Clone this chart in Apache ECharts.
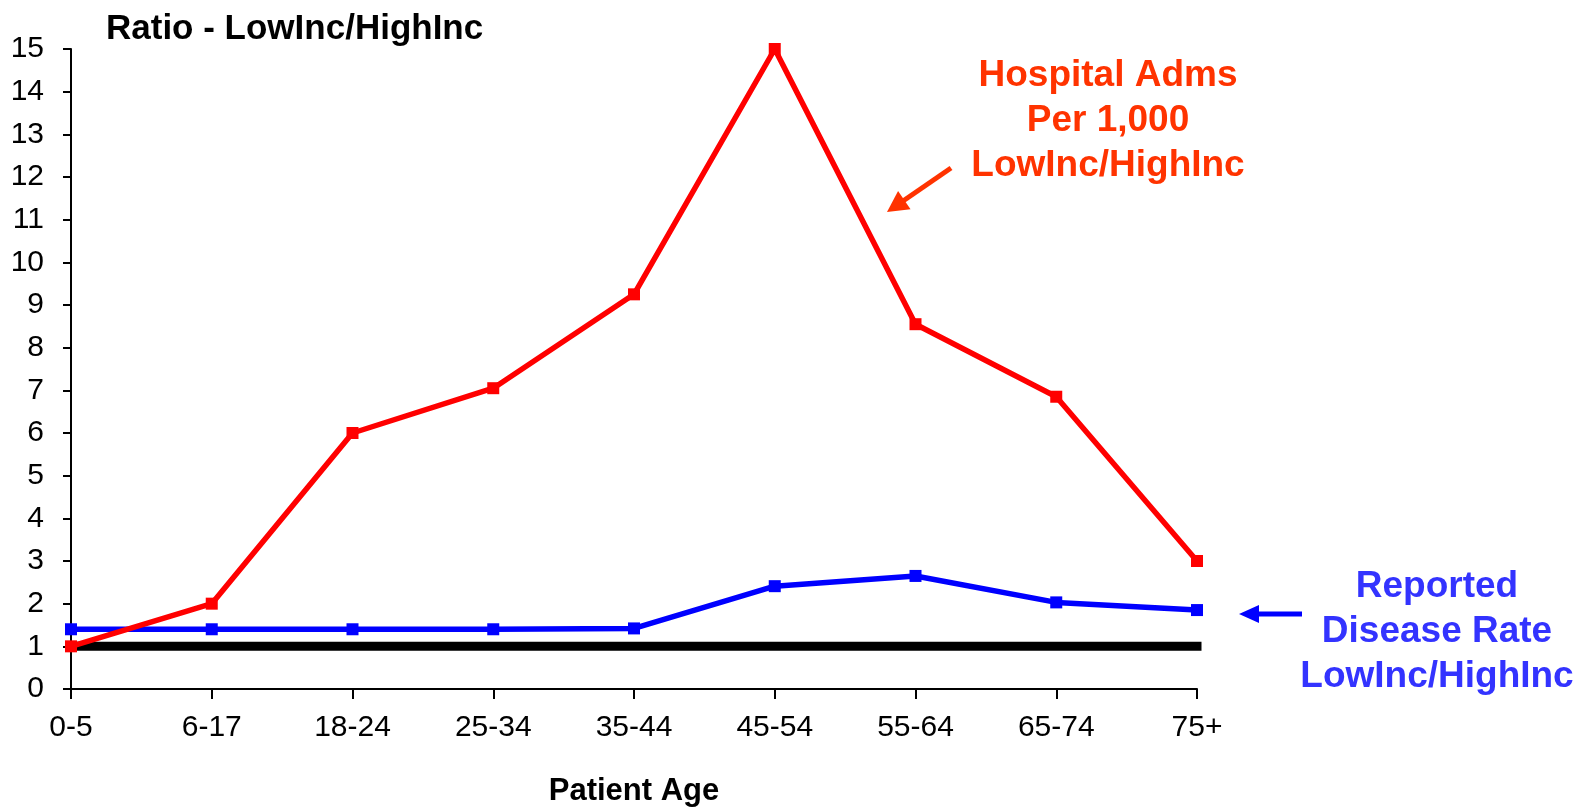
<!DOCTYPE html>
<html>
<head>
<meta charset="utf-8">
<script src="https://cdn.jsdelivr.net/npm/echarts@6/dist/echarts.min.js"></script>
<style>
  html, body { margin: 0; padding: 0; background: #fff; }
  #chart { width: 1586px; height: 808px; }
</style>
</head>
<body>
<div id="chart"></div>
<script>
// Age groups along the x axis
const ageGroups = ['0-5', '6-17', '18-24', '25-34', '35-44', '45-54', '55-64', '65-74', '75+'];
// Hospital admissions per 1,000, low-income / high-income ratio
const hospitalAdmsRatio = [1.0, 2.0, 6.0, 7.05, 9.25, 15.0, 8.55, 6.85, 3.0];
// Reported disease rate, low-income / high-income ratio
const diseaseRateRatio = [1.4, 1.4, 1.4, 1.4, 1.42, 2.41, 2.65, 2.03, 1.85];
// Parity reference (ratio = 1)
const parityLine = ageGroups.map(() => 1);

const FONT = '"Liberation Sans", Arial, sans-serif';
const RED_TEXT = '#FF3300';
const BLUE_TEXT = '#3333FF';

// Straight arrow built from a shaft and a triangular head
function arrow(x1, y1, x2, y2, color, headLen, headHalf, width) {
  const dx = x2 - x1, dy = y2 - y1;
  const len = Math.hypot(dx, dy);
  const ux = dx / len, uy = dy / len;
  const bx = x2 - ux * headLen, by = y2 - uy * headLen;
  const px = -uy, py = ux;
  return [
    { type: 'line', shape: { x1: x1, y1: y1, x2: bx + ux * 2, y2: by + uy * 2 },
      style: { stroke: color, lineWidth: width } },
    { type: 'polygon', shape: { points: [[x2, y2], [bx + px * headHalf, by + py * headHalf], [bx - px * headHalf, by - py * headHalf]] },
      style: { fill: color } }
  ];
}

const chart = echarts.init(document.getElementById('chart'), null, { renderer: 'canvas' });

chart.setOption({
  animation: false,
  backgroundColor: '#fff',
  grid: { left: 71, right: 389, top: 49, bottom: 119, containLabel: false, outerBoundsMode: 'none' },
  xAxis: {
    type: 'category',
    data: ageGroups,
    boundaryGap: false,
    name: 'Patient Age',
    nameLocation: 'middle',
    nameGap: 87,
    nameTextStyle: { fontFamily: FONT, fontSize: 31, fontWeight: 'bold', color: '#000' },
    axisLine: { lineStyle: { color: '#000', width: 2 } },
    axisTick: { show: true, length: 10, alignWithLabel: true, lineStyle: { color: '#000', width: 2 } },
    axisLabel: { fontFamily: FONT, fontSize: 30, color: '#000', margin: 24 },
    splitLine: { show: false }
  },
  yAxis: {
    type: 'value',
    min: 0,
    max: 15,
    interval: 1,
    axisLine: { show: true, lineStyle: { color: '#000', width: 2 } },
    axisTick: { show: true, length: 8, lineStyle: { color: '#000', width: 2 } },
    axisLabel: { fontFamily: FONT, fontSize: 30, color: '#000', margin: 27 },
    splitLine: { show: false }
  },
  series: [
    {
      name: 'Parity',
      type: 'line',
      data: parityLine,
      symbol: 'none',
      lineStyle: { color: '#000', width: 9, cap: 'square' },
      z: 1
    },
    {
      name: 'Reported Disease Rate',
      type: 'line',
      data: diseaseRateRatio,
      symbol: 'rect',
      symbolSize: 12,
      itemStyle: { color: '#0000FF' },
      lineStyle: { color: '#0000FF', width: 5.5 },
      z: 2
    },
    {
      name: 'Hospital Adms Per 1,000',
      type: 'line',
      data: hospitalAdmsRatio,
      symbol: 'rect',
      symbolSize: 12,
      itemStyle: { color: '#FF0000' },
      lineStyle: { color: '#FF0000', width: 5.5 },
      z: 3
    }
  ],
  graphic: [
    { type: 'text', x: 106, y: 29,
      style: { text: 'Ratio - LowInc/HighInc', font: 'bold 35px ' + FONT, fill: '#000',
               align: 'left', verticalAlign: 'middle' } },
    { type: 'text', x: 1108, y: 121,
      style: { text: 'Hospital Adms\nPer 1,000\nLowInc/HighInc', font: 'bold 37px ' + FONT, fill: RED_TEXT,
               align: 'center', verticalAlign: 'middle', lineHeight: 45 } },
    { type: 'text', x: 1437, y: 632,
      style: { text: 'Reported\nDisease Rate\nLowInc/HighInc', font: 'bold 37px ' + FONT, fill: BLUE_TEXT,
               align: 'center', verticalAlign: 'middle', lineHeight: 45 } },
    ...arrow(951, 168, 887, 212, RED_TEXT, 21, 11, 5),
    ...arrow(1302, 614, 1239, 614, '#0000FF', 20, 9, 5)
  ]
});
</script>
</body>
</html>
